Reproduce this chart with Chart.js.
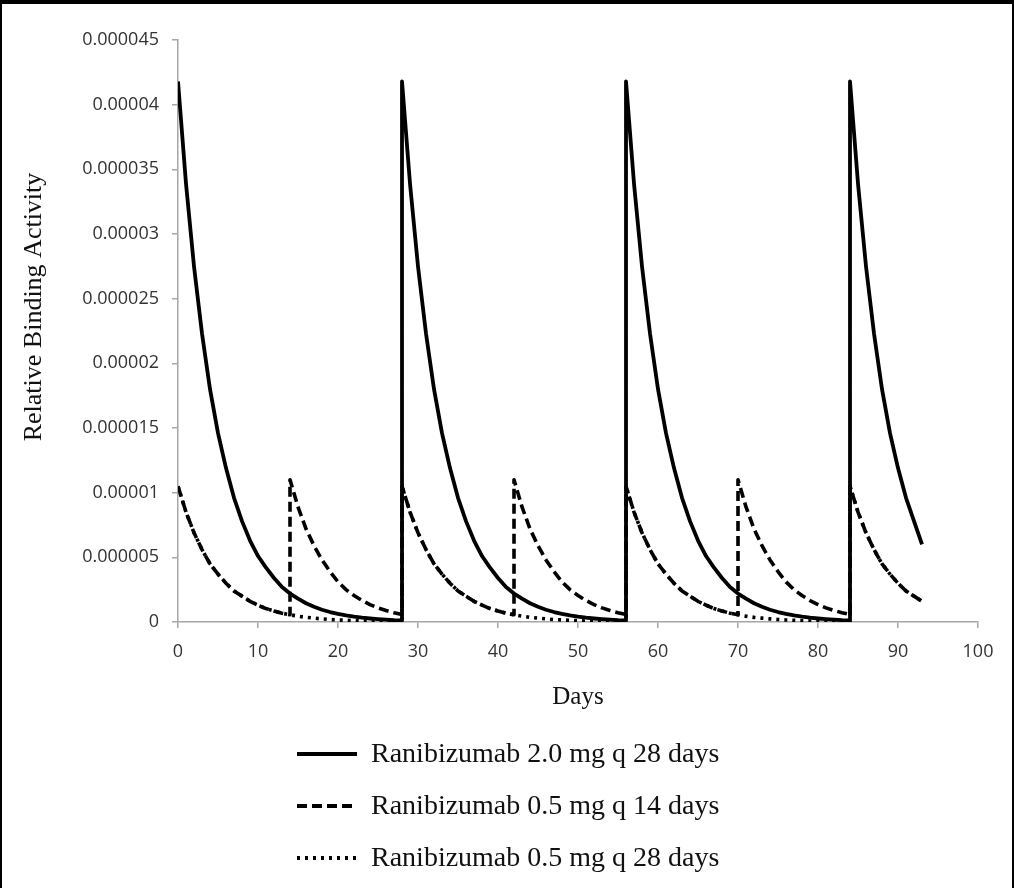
<!DOCTYPE html>
<html>
<head>
<meta charset="utf-8">
<script src="https://cdn.jsdelivr.net/npm/chart.js@4"></script>
<style>
  html, body { margin: 0; padding: 0; background: #fff; }
  #wrap { width: 1014px; height: 888px; }
</style>
</head>
<body>
<div id="wrap"><canvas id="chart-area" width="1014" height="888"></canvas></div>
<script>
// days / values (jumps at dosing days use the same day twice)
var solidDays = [0,1,2,3,4,5,6,7,8,9,10,11,12,13,14,15,16,17,18,19,20,21,22,23,24,25,26,27,28,
    28,29,30,31,32,33,34,35,36,37,38,39,40,41,42,43,44,45,46,47,48,49,50,51,52,53,54,55,56,
    56,57,58,59,60,61,62,63,64,65,66,67,68,69,70,71,72,73,74,75,76,77,78,79,80,81,82,83,84,
    84,85,86,87,88,89,90,91,92,93];

var solidValues = [4.18e-5,3.39e-5,2.75e-5,2.23e-5,1.80e-5,1.46e-5,1.19e-5,9.6e-6,7.8e-6,6.3e-6,5.1e-6,4.2e-6,3.4e-6,2.7e-6,2.2e-6,1.8e-6,1.45e-6,1.18e-6,9.5e-7,7.7e-7,6.3e-7,5.1e-7,4.1e-7,3.3e-7,2.7e-7,2.2e-7,1.8e-7,1.4e-7,1.2e-7,
    4.18e-5,3.39e-5,2.75e-5,2.23e-5,1.80e-5,1.46e-5,1.19e-5,9.6e-6,7.8e-6,6.3e-6,5.1e-6,4.2e-6,3.4e-6,2.7e-6,2.2e-6,1.8e-6,1.45e-6,1.18e-6,9.5e-7,7.7e-7,6.3e-7,5.1e-7,4.1e-7,3.3e-7,2.7e-7,2.2e-7,1.8e-7,1.4e-7,1.2e-7,
    4.18e-5,3.39e-5,2.75e-5,2.23e-5,1.80e-5,1.46e-5,1.19e-5,9.6e-6,7.8e-6,6.3e-6,5.1e-6,4.2e-6,3.4e-6,2.7e-6,2.2e-6,1.8e-6,1.45e-6,1.18e-6,9.5e-7,7.7e-7,6.3e-7,5.1e-7,4.1e-7,3.3e-7,2.7e-7,2.2e-7,1.8e-7,1.4e-7,1.2e-7,
    4.18e-5,3.39e-5,2.75e-5,2.23e-5,1.80e-5,1.46e-5,1.19e-5,9.6e-6,7.8e-6,6.0e-6];

var dashedDays = [0,1,2,3,4,5,6,7,8,9,10,11,12,13,14,
    14,15,16,17,18,19,20,21,22,23,24,25,26,27,28,
    28,29,30,31,32,33,34,35,36,37,38,39,40,41,42,
    42,43,44,45,46,47,48,49,50,51,52,53,54,55,56,
    56,57,58,59,60,61,62,63,64,65,66,67,68,69,70,
    70,71,72,73,74,75,76,77,78,79,80,81,82,83,84,
    84,85,86,87,88,89,90,91,92,93];

var dashedValues = [1.05e-5,8.5e-6,6.9e-6,5.6e-6,4.5e-6,3.7e-6,3.0e-6,2.4e-6,2.0e-6,1.6e-6,1.3e-6,1.04e-6,8.5e-7,6.8e-7,5.6e-7,
    1.1e-5,8.9e-6,7.2e-6,5.9e-6,4.8e-6,3.9e-6,3.1e-6,2.5e-6,2.05e-6,1.66e-6,1.35e-6,1.09e-6,8.9e-7,7.2e-7,5.8e-7,
    1.05e-5,8.5e-6,6.9e-6,5.6e-6,4.5e-6,3.7e-6,3.0e-6,2.4e-6,2.0e-6,1.6e-6,1.3e-6,1.04e-6,8.5e-7,6.8e-7,5.6e-7,
    1.1e-5,8.9e-6,7.2e-6,5.9e-6,4.8e-6,3.9e-6,3.1e-6,2.5e-6,2.05e-6,1.66e-6,1.35e-6,1.09e-6,8.9e-7,7.2e-7,5.8e-7,
    1.05e-5,8.5e-6,6.9e-6,5.6e-6,4.5e-6,3.7e-6,3.0e-6,2.4e-6,2.0e-6,1.6e-6,1.3e-6,1.04e-6,8.5e-7,6.8e-7,5.6e-7,
    1.1e-5,8.9e-6,7.2e-6,5.9e-6,4.8e-6,3.9e-6,3.1e-6,2.5e-6,2.05e-6,1.66e-6,1.35e-6,1.09e-6,8.9e-7,7.2e-7,5.8e-7,
    1.05e-5,8.5e-6,6.9e-6,5.6e-6,4.5e-6,3.7e-6,3.0e-6,2.4e-6,2.0e-6,1.6e-6];

var dottedDays = solidDays;

var dottedValues = [1.05e-5,8.5e-6,6.9e-6,5.6e-6,4.5e-6,3.7e-6,3.0e-6,2.4e-6,2.0e-6,1.6e-6,1.3e-6,1.04e-6,8.5e-7,6.8e-7,5.6e-7,4.5e-7,3.6e-7,3.0e-7,2.4e-7,1.9e-7,1.6e-7,1.3e-7,1.0e-7,8e-8,7e-8,5e-8,5e-8,4e-8,3e-8,
    1.05e-5,8.5e-6,6.9e-6,5.6e-6,4.5e-6,3.7e-6,3.0e-6,2.4e-6,2.0e-6,1.6e-6,1.3e-6,1.04e-6,8.5e-7,6.8e-7,5.6e-7,4.5e-7,3.6e-7,3.0e-7,2.4e-7,1.9e-7,1.6e-7,1.3e-7,1.0e-7,8e-8,7e-8,5e-8,5e-8,4e-8,3e-8,
    1.05e-5,8.5e-6,6.9e-6,5.6e-6,4.5e-6,3.7e-6,3.0e-6,2.4e-6,2.0e-6,1.6e-6,1.3e-6,1.04e-6,8.5e-7,6.8e-7,5.6e-7,4.5e-7,3.6e-7,3.0e-7,2.4e-7,1.9e-7,1.6e-7,1.3e-7,1.0e-7,8e-8,7e-8,5e-8,5e-8,4e-8,3e-8,
    1.05e-5,8.5e-6,6.9e-6,5.6e-6,4.5e-6,3.7e-6,3.0e-6,2.4e-6,2.0e-6,1.6e-6];

var seriesNames = ["Ranibizumab 2.0 mg q 28 days","Ranibizumab 0.5 mg q 14 days","Ranibizumab 0.5 mg q 28 days"];

var xTickValues = [0,10,20,30,40,50,60,70,80,90,100];
var yTickValues = [0,0.000005,0.00001,0.000015,0.00002,0.000025,0.00003,0.000035,0.00004,0.000045];
var yTickLabels = ["0","0.000005","0.00001","0.000015","0.00002","0.000025","0.00003","0.000035","0.00004","0.000045"];

function toPoints(days, vals) {
    return days.map(function (d, i) { return {x: d, y: vals[i]}; });
}

var axisGray = "#a6a6a6";
var serif = "'Liberation Serif', 'Times New Roman', serif";

// black frame, y title (sits a bit above centre) and the stacked legend
var figurePlugin = {
    id: 'figure',
    afterDraw: function (chart) {
        var ctx = chart.ctx;
        ctx.save();
        ctx.fillStyle = "#000";
        ctx.fillRect(0, 0, 1014, 4);
        ctx.fillRect(0, 0, 2, 888);
        ctx.fillRect(1012, 0, 2, 888);

        ctx.save();
        ctx.translate(34, 307);
        ctx.rotate(-Math.PI / 2);
        ctx.fillStyle = "#111";
        ctx.font = "26px " + serif;
        ctx.textAlign = "center";
        ctx.textBaseline = "middle";
        ctx.fillText("Relative Binding Activity", 0, 0);
        ctx.restore();

        var rowsY = [754, 806, 858];
        chart.data.datasets.forEach(function (ds, i) {
            var y = rowsY[i];
            ctx.strokeStyle = "#000";
            ctx.lineWidth = 4;
            ctx.lineCap = "butt";
            ctx.setLineDash(ds.borderDash || []);
            ctx.beginPath();
            ctx.moveTo(297, y);
            ctx.lineTo(357, y);
            ctx.stroke();
            ctx.setLineDash([]);
            ctx.fillStyle = "#111";
            ctx.font = "28px " + serif;
            ctx.textBaseline = "middle";
            ctx.textAlign = "left";
            ctx.fillText(ds.label, 371, y + 1);
        });
        ctx.restore();
    }
};

var config = {
    type: 'scatter',
    data: {
        datasets: [{
            label: seriesNames[0],
            data: toPoints(solidDays, solidValues),
            borderColor: "#000",
            borderWidth: 3.8,
            borderDash: [],
            borderJoinStyle: 'round',
            showLine: true,
            pointRadius: 0,
            tension: 0
        }, {
            label: seriesNames[1],
            data: toPoints(dashedDays, dashedValues),
            borderColor: "#000",
            borderWidth: 3.6,
            borderDash: [10, 5],
            borderJoinStyle: 'round',
            showLine: true,
            pointRadius: 0,
            tension: 0
        }, {
            label: seriesNames[2],
            data: toPoints(dottedDays, dottedValues),
            borderColor: "#000",
            borderWidth: 3.6,
            borderDash: [3, 5],
            borderJoinStyle: 'round',
            showLine: true,
            pointRadius: 0,
            tension: 0
        }]
    },
    options: {
        responsive: false,
        animation: false,
        layout: {padding: {left: 0, top: 40, right: 36, bottom: 176}},
        plugins: {
            legend: {display: false},
            tooltip: {enabled: false}
        },
        scales: {
            x: {
                type: 'linear',
                min: 0,
                max: 100,
                afterBuildTicks: function (s) { s.ticks = xTickValues.map(function (v) { return {value: v}; }); },
                afterFit: function (s) { s.height = 90; },
                grid: {drawOnChartArea: false, drawTicks: true, tickLength: 6, color: axisGray, lineWidth: 1.5},
                border: {color: axisGray, width: 1.5},
                ticks: {
                    padding: 13,
                    color: "#333",
                    font: {family: "'Open Sans'", size: 18},
                    maxRotation: 0
                },
                title: {
                    display: true,
                    text: "Days",
                    color: "#111",
                    font: {family: serif, size: 25},
                    padding: {top: 0, bottom: 0}
                }
            },
            y: {
                type: 'linear',
                min: 0,
                max: 0.000045,
                afterBuildTicks: function (s) { s.ticks = yTickValues.map(function (v) { return {value: v}; }); },
                afterFit: function (s) { s.width = 178; },
                grid: {drawOnChartArea: false, drawTicks: true, tickLength: 6, color: axisGray, lineWidth: 1.5},
                border: {color: axisGray, width: 1.5},
                ticks: {
                    padding: 13,
                    color: "#333",
                    font: {family: "'Open Sans'", size: 18},
                    callback: function (v, i) { return yTickLabels[i]; }
                },
                title: {display: false}
            }
        }
    },
    plugins: [figurePlugin]
};

window.onload = function () {
    var ctx = document.getElementById("chart-area").getContext("2d");
    window.myChart = new Chart(ctx, config);
};
</script>
</body>
</html>
